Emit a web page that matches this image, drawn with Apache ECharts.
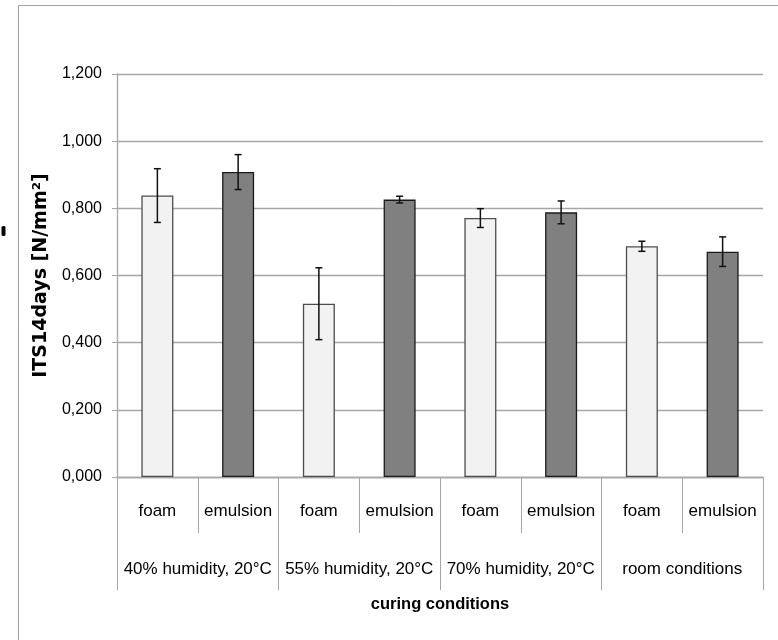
<!DOCTYPE html>
<html>
<head>
<meta charset="utf-8">
<script src="https://cdn.jsdelivr.net/npm/echarts@6/dist/echarts.min.js"></script>
<style>
html,body{margin:0;padding:0;background:#fff;}
#chart{width:778px;height:640px;}
</style>
</head>
<body>
<div id="chart"></div>
<script>
// ---- data ----
const groups = ['40% humidity, 20°C', '55% humidity, 20°C', '70% humidity, 20°C', 'room conditions'];
const types = ['foam', 'emulsion'];
const foamValues = [0.838, 0.516, 0.771, 0.687];
const foamErrors = [0.080, 0.107, 0.028, 0.015];
const emulsionValues = [0.908, 0.826, 0.788, 0.671];
const emulsionErrors = [0.052, 0.010, 0.034, 0.044];
const yTicks = [0, 0.2, 0.4, 0.6, 0.8, 1.0, 1.2];

// ---- build ----
const categories = [];
groups.forEach(() => types.forEach(t => categories.push(t)));
const foamData = [], emulsionData = [], errData = [];
groups.forEach((g, i) => {
  foamData.push(foamValues[i]); foamData.push(null);
  emulsionData.push(null); emulsionData.push(emulsionValues[i]);
  errData.push([2 * i, foamValues[i] - foamErrors[i], foamValues[i] + foamErrors[i]]);
  errData.push([2 * i + 1, emulsionValues[i] - emulsionErrors[i], emulsionValues[i] + emulsionErrors[i]]);
});

const font = "'Liberation Sans', Arial, sans-serif";
const gridColor = '#a6a6a6';

const chart = echarts.init(document.getElementById('chart'), null, {renderer: 'canvas'});
chart.setOption({
  backgroundColor: '#ffffff',
  animation: false,
  grid: {left: 117, right: 15, top: 74, bottom: 163, containLabel: false},
  xAxis: [
    {
      type: 'category',
      data: categories,
      position: 'bottom',
      axisLine: {show: true, lineStyle: {color: gridColor, width: 1.3}},
      axisTick: {show: true, interval: 0, length: 56, lineStyle: {color: gridColor, width: 1}},
      axisLabel: {interval: 0, margin: 26, color: '#000', fontSize: 17, fontFamily: font},
      splitLine: {show: false}
    },
    {
      type: 'category',
      data: groups,
      position: 'bottom',
      axisLine: {show: false},
      axisTick: {show: true, interval: 0, length: 113, lineStyle: {color: gridColor, width: 1}},
      axisLabel: {interval: 0, margin: 84, color: '#000', fontSize: 17, fontFamily: font},
      name: 'curing conditions',
      nameLocation: 'middle',
      nameGap: 119,
      nameTextStyle: {color: '#000', fontSize: 16.5, fontWeight: 'bold', fontFamily: font},
      splitLine: {show: false}
    }
  ],
  yAxis: {
    type: 'value',
    min: yTicks[0],
    max: yTicks[yTicks.length - 1],
    interval: 0.2,
    axisLine: {show: true, lineStyle: {color: gridColor, width: 1.3}},
    axisTick: {show: true, length: 5, lineStyle: {color: gridColor}},
    axisLabel: {
      margin: 15, color: '#000', fontSize: 16, fontFamily: font,
      formatter: v => v.toFixed(3).replace('.', ',')
    },
    splitLine: {show: true, lineStyle: {color: gridColor, width: 1.3}},
    name: 'ITS14days [N/mm²]',
    nameLocation: 'middle',
    nameGap: 52,
    nameTextStyle: {color: '#000', fontSize: 19, fontWeight: 'bold', fontFamily: "'DejaVu Sans', sans-serif"}
  },
  series: [
    {
      name: 'foam',
      type: 'bar',
      xAxisIndex: 0,
      data: foamData,
      barWidth: 32,
      barGap: '-100%',
      itemStyle: {color: '#f2f2f2', borderColor: '#4d4d4d', borderWidth: 1.3}
    },
    {
      name: 'emulsion',
      type: 'bar',
      xAxisIndex: 0,
      data: emulsionData,
      barWidth: 32,
      barGap: '-100%',
      itemStyle: {color: '#808080', borderColor: '#1a1a1a', borderWidth: 1.3}
    },
    {
      name: 'error',
      type: 'custom',
      xAxisIndex: 0,
      data: errData,
      z: 10,
      renderItem: function (params, api) {
        const x = api.value(0);
        const lo = api.coord([x, api.value(1)]);
        const hi = api.coord([x, api.value(2)]);
        const hw = 3.5;
        const style = {stroke: '#111', lineWidth: 1.5};
        return {
          type: 'group',
          children: [
            {type: 'line', shape: {x1: lo[0], y1: lo[1], x2: hi[0], y2: hi[1]}, style: style},
            {type: 'line', shape: {x1: lo[0] - hw, y1: lo[1], x2: lo[0] + hw, y2: lo[1]}, style: style},
            {type: 'line', shape: {x1: hi[0] - hw, y1: hi[1], x2: hi[0] + hw, y2: hi[1]}, style: style}
          ]
        };
      }
    }
  ],
  graphic: [
    {type: 'rect', shape: {x: 18.5, y: 5.5, width: 800, height: 700}, style: {fill: 'none', stroke: '#a0a0a0', lineWidth: 1}, silent: true},
    {type: 'rect', shape: {x: 1.5, y: 226, width: 4, height: 10, r: 1.5}, style: {fill: '#000'}, silent: true}
  ]
});
</script>
</body>
</html>
